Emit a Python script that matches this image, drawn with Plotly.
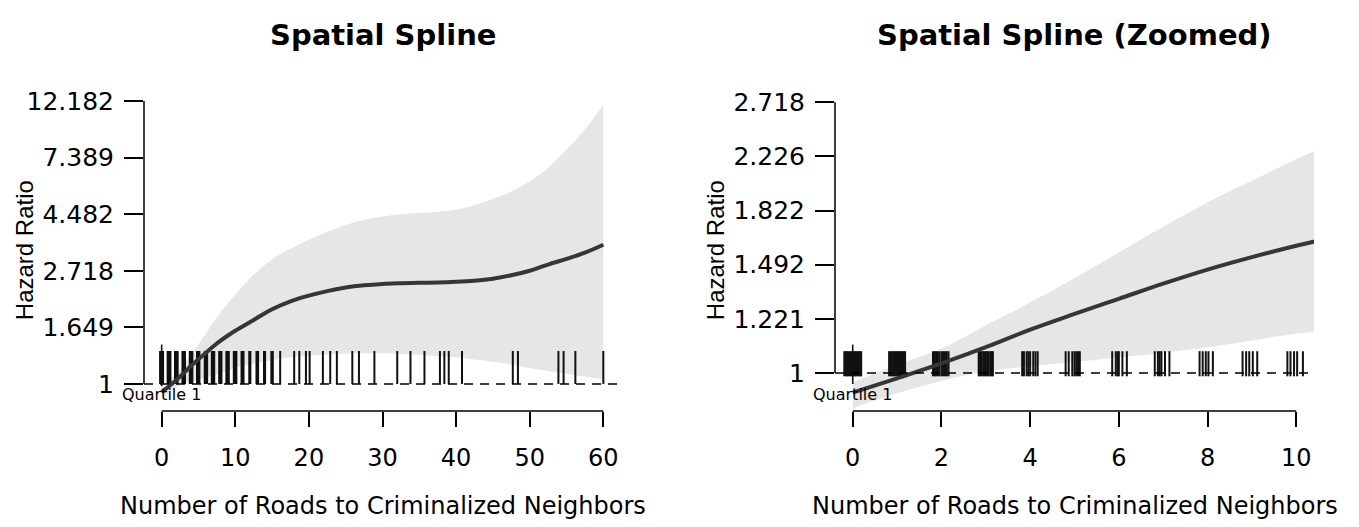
import numpy as np
import plotly.graph_objects as go

# ---------------- data ----------------
# spline on log hazard-ratio scale
x_spline = [0, 1, 2, 3, 4, 5, 6, 7, 8, 9, 10, 12.5, 15, 17.5, 20, 22.5, 25, 27.5,
            30, 32.5, 35, 37.5, 40, 42.5, 45, 47.5, 50, 52.5, 55, 57.5, 60]
log_hr_fit = [-0.073, -0.02, 0.035, 0.095, 0.16, 0.218, 0.274, 0.33, 0.382, 0.428,
              0.47, 0.565, 0.66, 0.73, 0.78, 0.82, 0.852, 0.872, 0.884, 0.89,
              0.894, 0.896, 0.902, 0.912, 0.93, 0.96, 1.0, 1.055, 1.105, 1.16, 1.23]
log_hr_upper = [-0.035, 0.03, 0.09, 0.175, 0.26, 0.35, 0.445, 0.54, 0.63, 0.71,
                0.79, 0.965, 1.1, 1.195, 1.275, 1.345, 1.405, 1.45, 1.48, 1.5,
                1.51, 1.522, 1.54, 1.58, 1.635, 1.7, 1.79, 1.91, 2.07, 2.25, 2.465]
log_hr_lower = [-0.13, -0.075, -0.03, 0.005, 0.025, 0.04, 0.057, 0.075, 0.095, 0.12,
                0.145, 0.18, 0.21, 0.235, 0.25, 0.26, 0.267, 0.27, 0.27, 0.265,
                0.258, 0.245, 0.235, 0.215, 0.195, 0.17, 0.14, 0.115, 0.09, 0.065, 0.038]

# rug of observed (jittered) values
rug_values = [
    -0.19, -0.16, -0.13, -0.1, -0.07, -0.04, -0.01, 0.02, 0.05, 0.08, 0.11, 0.14, 0.17, 0.19,
    0.82, 0.85, 0.88, 0.91, 0.94, 0.97, 1.0, 1.03, 1.06, 1.09, 1.12, 1.15, 1.18,
    1.81, 1.85, 1.88, 1.92, 1.96, 2.01, 2.04, 2.08, 2.12, 2.16,
    2.84, 2.87, 2.9, 2.94, 2.97, 3.0, 3.03, 3.06, 3.1, 3.13, 3.16,
    3.82, 3.86, 3.92, 3.96, 4.0, 4.07, 4.12, 4.17,
    4.8, 4.87, 4.95, 5.0, 5.04, 5.08, 5.12,
    5.85, 5.93, 5.97, 6.0, 6.08, 6.18,
    6.81, 6.88, 6.92, 6.96, 7.04, 7.14,
    7.82, 7.89, 7.96, 8.02, 8.12,
    8.79, 8.87, 8.94, 9.02, 9.12,
    9.8, 9.87, 9.95, 10.02, 10.15,
    10.85, 11.0, 11.12, 11.9, 12.05, 12.88, 13.0, 13.1, 13.9, 14.05, 14.9, 15.1,
    16.1, 18.0, 18.7, 19.6, 20.1, 21.9, 22.9, 23.8, 25.9, 26.8, 28.9, 32.0,
    33.8, 35.7, 37.8, 38.4, 39.0, 40.8, 47.7, 48.4, 53.9, 54.6, 56.2, 60.0,
]
quartile_1_x = 0
quartile_label = "Quartile 1"

titles = ["Spatial Spline", "Spatial Spline (Zoomed)"]
x_title = "Number of Roads to Criminalized Neighbors"
y_title = "Hazard Ratio"
x_ticks = [[0, 10, 20, 30, 40, 50, 60], [0, 2, 4, 6, 8, 10]]
y_tick_labels = [["1", "1.649", "2.718", "4.482", "7.389", "12.182"],
                 ["1", "1.221", "1.492", "1.822", "2.226", "2.718"]]

# ---------------- styling / layout ----------------
W, H = 1359, 527
OFF = 8  # page body margin of the written html
FONT = "DejaVu Sans"
px_x = lambda p: (p - OFF) / W
px_y = lambda p: 1 - (p - OFF) / H

PLOT_TOP, PLOT_BOTTOM = 87, 410
panels = [
    dict(xd=[144, 621], yr=[-0.239, 2.594], rug=[0.0, 0.29], mark=[-0.02, 0.348]),
    dict(xd=[835, 1314], yr=[-0.1404, 1.044], rug=[-0.012, 0.08], mark=[-0.041, 0.105]),
]
Y_DOM = [px_y(PLOT_BOTTOM), px_y(PLOT_TOP)]

fig = go.Figure()
shapes, annotations = [], []

for i, p in enumerate(panels):
    xa = "x" if i == 0 else "x2"
    ya = "y" if i == 0 else "y2"
    xt = x_ticks[i]
    span = xt[-1] - xt[0]
    xrange = [xt[0] - 0.04 * span, xt[-1] + 0.04 * span]

    # ribbon
    fig.add_trace(go.Scatter(x=x_spline, y=log_hr_lower, mode="lines",
                             line=dict(width=0, color="rgba(0,0,0,0)", shape="spline",
                                       smoothing=1.0),
                             xaxis=xa, yaxis=ya, hoverinfo="skip"))
    fig.add_trace(go.Scatter(x=x_spline, y=log_hr_upper, mode="lines",
                             line=dict(width=0, color="rgba(0,0,0,0)", shape="spline",
                                       smoothing=1.0),
                             fill="tonexty", fillcolor="#E6E6E6",
                             xaxis=xa, yaxis=ya, hoverinfo="skip"))
    # rug as vertical tick markers ('line-ns' symbol is 1.4x its size long)
    rug_lo, rug_hi = p["rug"]
    rug_px = (rug_hi - rug_lo) / (p["yr"][1] - p["yr"][0]) * (PLOT_BOTTOM - PLOT_TOP)
    fig.add_trace(go.Scatter(x=rug_values, y=[(rug_lo + rug_hi) / 2] * len(rug_values),
                             mode="markers",
                             marker=dict(symbol="line-ns", size=rug_px / 1.4,
                                         line=dict(width=2.0, color="#111111")),
                             xaxis=xa, yaxis=ya, hoverinfo="skip", cliponaxis=True))
    # reference mark
    fig.add_trace(go.Scatter(x=[quartile_1_x, quartile_1_x], y=p["mark"], mode="lines",
                             line=dict(width=1.6, color="#111111"),
                             xaxis=xa, yaxis=ya, hoverinfo="skip"))
    # fitted curve
    fig.add_trace(go.Scatter(x=x_spline, y=log_hr_fit, mode="lines",
                             line=dict(width=4, color="#363636", shape="spline",
                                       smoothing=1.0),
                             xaxis=xa, yaxis=ya, hoverinfo="skip"))

    ytv = [float(np.log(float(t))) for t in y_tick_labels[i]]
    axis_suffix = "" if i == 0 else "2"
    fig.layout["xaxis" + axis_suffix] = dict(
        domain=[px_x(p["xd"][0]), px_x(p["xd"][1])], range=xrange, anchor=ya,
        tickvals=xt, ticktext=[str(t) for t in xt], ticks="outside", ticklen=15,
        tickwidth=1.5, tickcolor="black", showline=False, showgrid=False,
        zeroline=False, ticklabelstandoff=10,
        tickfont=dict(family=FONT, size=24, color="black"))
    fig.layout["yaxis" + axis_suffix] = dict(
        domain=Y_DOM, range=p["yr"], anchor=xa,
        tickvals=ytv, ticktext=y_tick_labels[i], ticks="outside", ticklen=19,
        tickwidth=1.5, tickcolor="black", showline=False, showgrid=False,
        zeroline=False, ticklabelstandoff=5,
        tickfont=dict(family=FONT, size=25, color="black"))

    # R-style axis lines spanning first..last tick
    shapes.append(dict(type="line", xref=xa + " domain", x0=0, x1=0, yref=ya,
                       y0=ytv[0], y1=ytv[-1], line=dict(color="black", width=1.5)))
    shapes.append(dict(type="line", xref=xa, x0=xt[0], x1=xt[-1], yref=ya + " domain",
                       y0=0, y1=0, line=dict(color="black", width=1.5)))
    # dashed reference line at HR = 1
    shapes.append(dict(type="line", xref=xa + " domain", x0=0, x1=1, yref=ya,
                       y0=0, y1=0, line=dict(color="black", width=1.5, dash="9px,7px")))

    cx = px_x((p["xd"][0] + p["xd"][1]) / 2)
    annotations.append(dict(text="<b>%s</b>" % titles[i], x=cx, y=px_y(31), xref="paper",
                            yref="paper", showarrow=False, xanchor="center", yanchor="middle",
                            font=dict(family=FONT, size=29, color="black")))
    annotations.append(dict(text=x_title, x=cx, y=px_y(506), xref="paper", yref="paper",
                            showarrow=False, xanchor="center", yanchor="middle",
                            font=dict(family=FONT, size=24, color="black")))
    annotations.append(dict(text=y_title, x=px_x(p["xd"][0] - 120), y=px_y(248),
                            xref="paper", yref="paper", textangle=-90, showarrow=False,
                            xanchor="center", yanchor="middle",
                            font=dict(family="Liberation Sans", size=24, color="black")))
    annotations.append(dict(text=quartile_label, x=quartile_1_x, y=px_y(393), xref=xa,
                            yref="paper", showarrow=False, xanchor="center", yanchor="middle",
                            font=dict(family=FONT, size=16, color="black")))

fig.update_layout(width=W, height=H, margin=dict(l=0, r=0, t=0, b=0),
                  paper_bgcolor="white", plot_bgcolor="white", showlegend=False,
                  shapes=shapes, annotations=annotations)
fig.write_html("out.html")
